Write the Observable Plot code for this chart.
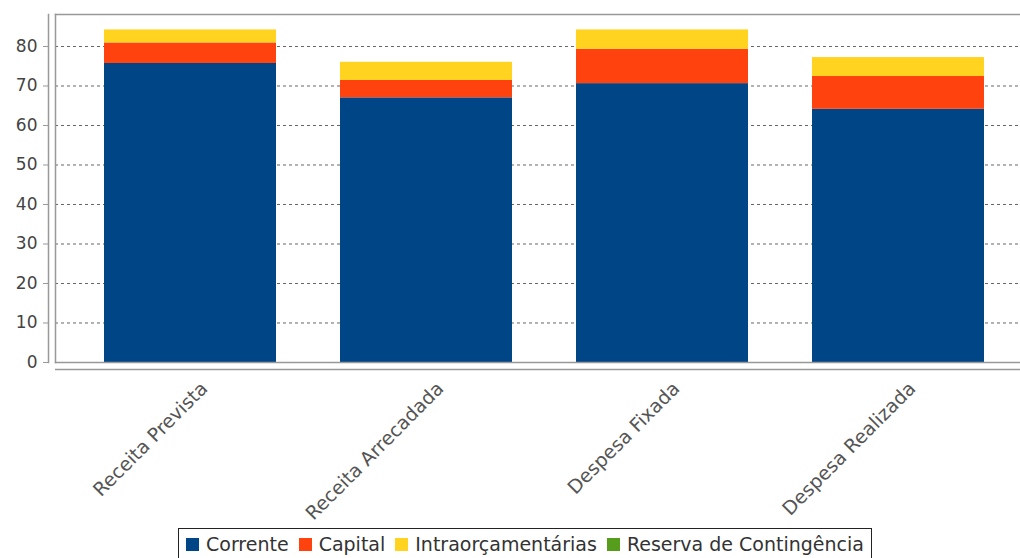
<!DOCTYPE html>
<html>
<head>
<meta charset="utf-8">
<script src="https://cdn.jsdelivr.net/npm/d3@7"></script>
<script src="https://cdn.jsdelivr.net/npm/@observablehq/plot@0.6"></script>
<style>
  html, body { margin: 0; padding: 0; background: #fff; overflow: hidden; }
  #wrap { position: relative; width: 1020px; height: 558px; overflow: hidden; }
  #chart { position: absolute; left: 0; top: 0; }
  #legend {
    position: absolute; left: 178px; top: 528px; height: 40px;
    border: 1px solid #222; box-sizing: border-box;
    display: flex; align-items: flex-start; padding: 4px 7px 0 7px;
    font-family: "DejaVu Sans", sans-serif; font-size: 19px; color: #333; white-space: nowrap;
  }
  #legend .item { display: flex; align-items: center; margin-right: 10px; }
  #legend .item:last-child { margin-right: 0; }
  #legend .sw { width: 13px; height: 13px; margin-right: 7px; display: inline-block; }
</style>
</head>
<body>
<div id="wrap">
  <div id="chart"></div>
  <div id="legend"></div>
</div>
<script>
const categories = ["Receita Prevista", "Receita Arrecadada", "Despesa Fixada", "Despesa Realizada"];
const series = ["Corrente", "Capital", "Intraorçamentárias", "Reserva de Contingência"];
const corrente = [75.7, 67.0, 70.6, 64.1];
const capital = [5.2, 4.4, 8.7, 8.3];
const intraorcamentarias = [3.3, 4.6, 4.9, 4.8];
const reserva = [0, 0, 0, 0];
const colors = ["#004586", "#ff420e", "#ffd320", "#579d1c"];
const yTicks = [0, 10, 20, 30, 40, 50, 60, 70, 80];

const seriesValues = [corrente, capital, intraorcamentarias, reserva];
const data = [];
categories.forEach((c, i) => {
  series.forEach((s, j) => data.push({category: c, series: s, value: seriesValues[j][i]}));
});

const chart = Plot.plot({
  width: 1020,
  height: 528,
  marginTop: 14,
  marginLeft: 55,
  marginRight: 0,
  marginBottom: 166,
  style: {fontFamily: "DejaVu Sans, sans-serif", fontSize: "17px", color: "#444", background: "transparent"},
  x: {domain: categories, range: [70.7, 1017.7], paddingInner: 0.27, paddingOuter: 0.135, label: null},
  y: {domain: [0, 88.1], label: null},
  color: {domain: series, range: colors},
  marks: [
    Plot.gridY(yTicks, {stroke: "#666", strokeOpacity: 1, strokeDasharray: "3,3"}),
    Plot.barY(data, {x: "category", y: "value", fill: "series", order: null}),
    Plot.frame({anchor: "top", stroke: "#999", strokeWidth: 1.5}),
    Plot.frame({anchor: "left", stroke: "#999", strokeWidth: 1.5}),
    Plot.frame({anchor: "bottom", stroke: "#999", strokeWidth: 1.5}),
    Plot.frame({anchor: "left", dx: -7, stroke: "#999", strokeWidth: 1.5}),
    Plot.ruleY([0], {dy: 7, stroke: "#999", strokeWidth: 1.5}),
    Plot.axisY(yTicks, {tickSize: 5, dx: -7, tickPadding: 6, stroke: "#999", fill: "#444", label: null}),
    Plot.axisX({tickSize: 0, tickRotate: -45, tickPadding: 23, dx: 14, fill: "#555", fontSize: 19, label: null})
  ]
});
document.getElementById("chart").appendChild(chart);

const legend = document.getElementById("legend");
series.forEach((s, i) => {
  const it = document.createElement("span");
  it.className = "item";
  it.innerHTML = `<span class="sw" style="background:${colors[i]}"></span><span>${s}</span>`;
  legend.appendChild(it);
});
</script>
</body>
</html>
